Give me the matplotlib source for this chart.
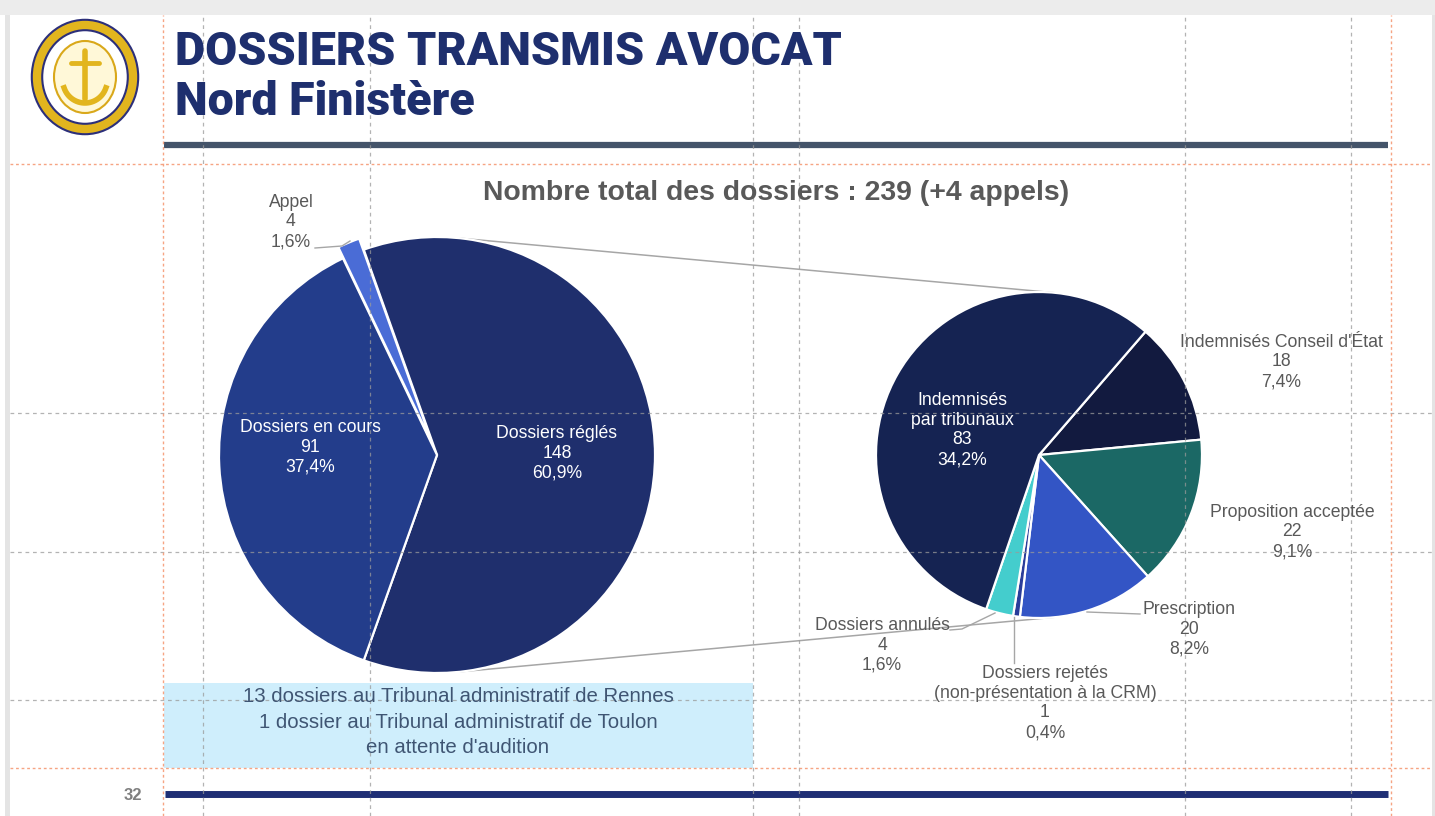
import numpy as np
import matplotlib
matplotlib.use("Agg")
import matplotlib.pyplot as plt
from matplotlib.patches import Rectangle, Ellipse

W, H = 1435, 816

# ---------------- data ----------------
main_labels = ["Dossiers réglés", "Dossiers en cours", "Appel"]
main_values = [148, 91, 4]
main_colors = ["#1f2f6d", "#233d8b", "#4a6cd6"]

sub_labels = ["Indemnisés Conseil d'État", "Proposition acceptée", "Prescription",
              "Dossiers rejetés\n(non-présentation à la CRM)", "Dossiers annulés",
              "Indemnisés\npar tribunaux"]
sub_values = [18, 22, 20, 1, 4, 83]
sub_colors = ["#121a3f", "#1b6865", "#3355c5", "#2a3d9a", "#44cdcd", "#152352"]

header_line1 = "DOSSIERS TRANSMIS AVOCAT"
header_line2 = "Nord Finistère"
note_lines = ["13 dossiers au Tribunal administratif de Rennes",
              "1 dossier au Tribunal administratif de Toulon",
              "en attente d'audition"]
page_number = "32"

total = sum(main_values)
chart_title = f"Nombre total des dossiers : {main_values[0] + main_values[1]} (+{main_values[2]} appels)"


def pct(v):
    return f"{v / total * 100:.1f}".replace(".", ",") + "%"


def Y(y):
    return H - y


FONT = ["Liberation Sans", "DejaVu Sans"]
GRAY_TXT = "#595959"

fig = plt.figure(figsize=(W / 100, H / 100), dpi=100)
fig.patch.set_facecolor("white")
ax = fig.add_axes([0, 0, 1, 1])

# ---------------- slide background ----------------
ax.add_patch(Rectangle((0, Y(15)), W, 15, facecolor="#ececec", edgecolor="none", zorder=0))
ax.add_patch(Rectangle((5, 0), 5, Y(15), facecolor="#e4e4e4", edgecolor="none", zorder=0))
ax.add_patch(Rectangle((1432, 0), 3, Y(15), facecolor="#e4e4e4", edgecolor="none", zorder=0))

# ---------------- logo (approximation) ----------------
lx, ly = 85, Y(77)
ax.add_patch(Ellipse((lx, ly), 96, 104, facecolor="none", edgecolor="#2c2f7a", linewidth=9, zorder=2))
ax.add_patch(Ellipse((lx, ly), 96, 104, facecolor="none", edgecolor="#e2b51e", linewidth=6, zorder=2))
ax.add_patch(Ellipse((lx, ly), 62, 72, facecolor="#fff8d8", edgecolor="#d9a81a", linewidth=1.5, zorder=2))
ax.plot([lx, lx], [ly + 26, ly - 22], color="#e2b51e", lw=4, solid_capstyle="round", zorder=3)
ax.plot([lx - 14, lx + 14], [ly + 14, ly + 14], color="#e2b51e", lw=3.5, solid_capstyle="round", zorder=3)
tt = np.linspace(np.pi * 1.1, np.pi * 1.9, 30)
ax.plot(lx + 22 * np.cos(tt), ly - 4 + 22 * np.sin(tt), color="#e2b51e", lw=4, zorder=3)

# ---------------- header ----------------
HFONT = ["Roboto", "DejaVu Sans"]
ax.text(175, Y(52), header_line1, fontsize=33.5, fontweight="heavy",
        family=HFONT, color="#1e2f6e", va="center", ha="left", zorder=10)
ax.text(175, Y(102), header_line2, fontsize=33.5, fontweight="heavy",
        family=HFONT, color="#1e2f6e", va="center", ha="left", zorder=10)
ax.plot([164, 1388], [Y(145), Y(145)], color="#44546a", lw=4.5, solid_capstyle="butt", zorder=4)

# ---------------- chart title ----------------
ax.text(776, Y(193), chart_title, fontsize=20.4, fontweight="bold", family=FONT,
        color=GRAY_TXT, ha="center", va="center", zorder=10)

# ---------------- left (main) pie ----------------
CL = (437, Y(455))
RL = 218
startL = 360 * main_values[0] / total / 2
explodeL = [0, 0, 12]
wl, _ = ax.pie(main_values, colors=main_colors, startangle=startL, counterclock=False,
               explode=explodeL, radius=RL, center=CL, frame=True,
               wedgeprops=dict(edgecolor="white", linewidth=1.6))
for w in wl:
    w.set_zorder(3)

# ---------------- right (sub) pie ----------------
CR = (1039, Y(455))
RR = 163
wr, _ = ax.pie(sub_values, colors=sub_colors, startangle=49.2, counterclock=False,
               radius=RR, center=CR, frame=True,
               wedgeprops=dict(edgecolor="white", linewidth=1.6))
for w in wr:
    w.set_zorder(3)

# ---------------- connector lines (external tangents) ----------------
d = CR[0] - CL[0]
phi = np.arccos((RL - RR) / d)
for s in (1, -1):
    p1 = (CL[0] + RL * np.cos(phi), CL[1] + s * RL * np.sin(phi))
    p2 = (CR[0] + RR * np.cos(phi), CR[1] + s * RR * np.sin(phi))
    ax.plot([p1[0], p2[0]], [p1[1], p2[1]], color="#a6a6a6", lw=1.1, zorder=2)

# ---------------- data labels ----------------
LFS = 12.7
LSP = 1.23


def lab(x, y, txt, color):
    ax.text(x, Y(y), txt, fontsize=LFS, family=FONT, color=color, ha="center",
            va="center", linespacing=LSP, zorder=10)


lab(310, 447, f"{main_labels[1]}\n{main_values[1]}\n{pct(main_values[1])}", "white")
lab(557, 453, f"{main_labels[0]}\n{main_values[0]}\n{pct(main_values[0])}", "white")
lab(291, 222, f"{main_labels[2]}\n{main_values[2]}\n{pct(main_values[2])}", GRAY_TXT)
ax.plot([315, 342, 350], [Y(248), Y(246), Y(241)], color="#a6a6a6", lw=1, zorder=4)

lab(962, 430, f"{sub_labels[5]}\n{sub_values[5]}\n{pct(sub_values[5])}", "white")
lab(1281, 362, f"{sub_labels[0]}\n{sub_values[0]}\n{pct(sub_values[0])}", GRAY_TXT)
lab(1292, 532, f"{sub_labels[1]}\n{sub_values[1]}\n{pct(sub_values[1])}", GRAY_TXT)
lab(1189, 629, f"{sub_labels[2]}\n{sub_values[2]}\n{pct(sub_values[2])}", GRAY_TXT)
lab(1045, 703, f"{sub_labels[3]}\n{sub_values[3]}\n{pct(sub_values[3])}", GRAY_TXT)
lab(882, 645, f"{sub_labels[4]}\n{sub_values[4]}\n{pct(sub_values[4])}", GRAY_TXT)

ax.plot([1087, 1140], [Y(612), Y(614)], color="#a6a6a6", lw=1, zorder=4)
ax.plot([1014, 1014], [Y(617), Y(663)], color="#a6a6a6", lw=1, zorder=4)
ax.plot([995, 962, 950], [Y(613), Y(629), Y(630)], color="#a6a6a6", lw=1, zorder=4)

# ---------------- note box ----------------
ax.add_patch(Rectangle((164, Y(768)), 589, 85, facecolor="#cfeefc", edgecolor="none", zorder=1))
ax.text(458, Y(722), "\n".join(note_lines), fontsize=14.7, family=FONT, color="#3f5573",
        ha="center", va="center", linespacing=1.44, zorder=10)

# ---------------- footer ----------------
ax.plot([165, 1388], [Y(794), Y(794)], color="#1f2f75", lw=5, solid_capstyle="butt", zorder=4)
ax.text(133, Y(796), page_number, fontsize=12, fontweight="bold", family=FONT,
        color="#7f7f7f", ha="center", va="center", zorder=10)

# ---------------- guides ----------------
for x in (203, 370, 753, 799, 1185, 1351):
    ax.plot([x, x], [0, Y(15)], color="#9a9a9a", lw=0.9, ls=(0, (3, 3)), alpha=0.75, zorder=5)
for y in (413, 552, 700):
    ax.plot([10, 1432], [Y(y), Y(y)], color="#9a9a9a", lw=0.9, ls=(0, (3, 3)), alpha=0.75, zorder=5)
for x in (163, 1391):
    ax.plot([x, x], [0, Y(15)], color="#f59a76", lw=1, ls=(0, (2, 2)), alpha=0.9, zorder=5)
for y in (164, 768):
    ax.plot([10, 1432], [Y(y), Y(y)], color="#f59a76", lw=1, ls=(0, (2, 2)), alpha=0.9, zorder=5)

ax.set_xlim(0, W)
ax.set_ylim(0, H)
ax.set_aspect("equal")
ax.axis("off")

fig.savefig("out.png", dpi=100, facecolor="white")
